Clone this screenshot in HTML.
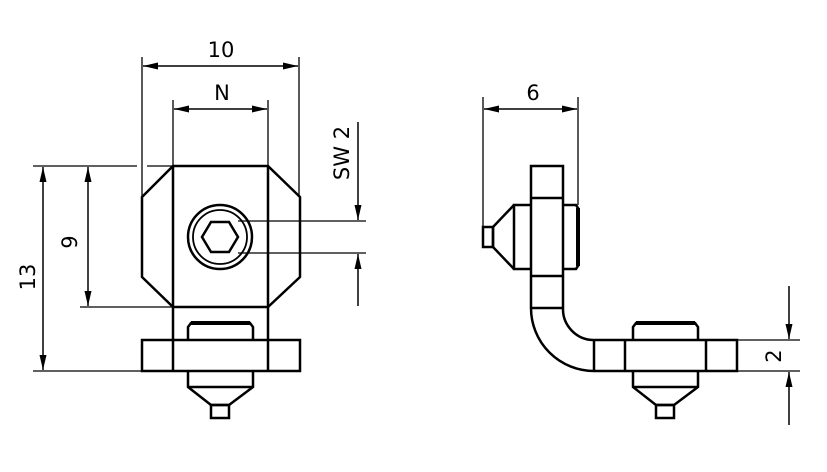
<!DOCTYPE html>
<html><head><meta charset="utf-8"><style>
html,body{margin:0;padding:0;background:#fff;}
svg{display:block;}
text{font-family:"DejaVu Sans","Liberation Sans",sans-serif;font-size:21px;fill:#000;}
</style></head><body>
<svg width="827" height="472" viewBox="0 0 827 472" xmlns="http://www.w3.org/2000/svg">
<defs>
<marker id="a" viewBox="0 0 15 10" refX="15" refY="5" markerWidth="15" markerHeight="10" markerUnits="userSpaceOnUse" orient="auto-start-reverse">
<path d="M0,1.5 L15,5 L0,8.5 z" fill="#000"/></marker>
</defs>
<g fill="none" stroke="#000" stroke-width="1.3">
<line x1="142" y1="57" x2="142" y2="197"/>
<line x1="299" y1="57" x2="299" y2="197"/>
<line x1="143" y1="66" x2="298" y2="66" marker-start="url(#a)" marker-end="url(#a)" stroke-width="1.5"/>
<line x1="173" y1="100" x2="173" y2="166"/>
<line x1="268" y1="100" x2="268" y2="166"/>
<line x1="174" y1="109" x2="267" y2="109" marker-start="url(#a)" marker-end="url(#a)" stroke-width="1.5"/>
<line x1="33" y1="166" x2="137" y2="166"/>
<line x1="147" y1="166" x2="173" y2="166"/>
<line x1="80" y1="307" x2="173" y2="307"/>
<line x1="33" y1="371" x2="142" y2="371"/>
<line x1="43" y1="167" x2="43" y2="370" marker-start="url(#a)" marker-end="url(#a)" stroke-width="1.5"/>
<line x1="88" y1="167" x2="88" y2="306" marker-start="url(#a)" marker-end="url(#a)" stroke-width="1.5"/>
<line x1="238" y1="221" x2="366" y2="221"/>
<line x1="238" y1="253" x2="366" y2="253"/>
<line x1="358" y1="122" x2="358" y2="220" marker-end="url(#a)" stroke-width="1.5"/>
<line x1="358" y1="306" x2="358" y2="254" marker-end="url(#a)" stroke-width="1.5"/>
</g>
<g fill="none" stroke="#000" stroke-width="2.5" stroke-linejoin="miter">
<polygon points="173,166 268,166 300,197 300,277 268,307 173,307 142,277 142,197"/>
<line x1="173" y1="166" x2="173" y2="371"/>
<line x1="268" y1="166" x2="268" y2="371"/>
<circle cx="220" cy="237" r="32"/>
<circle cx="220" cy="237" r="27" stroke-width="1.8"/>
<polygon points="202,237 211,222 229,222 238,237 229,252 211,252"/>
<path d="M188,340 V327 L191,323 H250 L253,327 V340"/>
<line x1="191" y1="323" x2="250" y2="323" stroke-width="4"/>
<rect x="142" y="340" width="158" height="31"/>
<path d="M188,371 V387 L211,405 H229 L253,387 V371"/>
<line x1="188" y1="387" x2="253" y2="387"/>
<rect x="211" y="405" width="18" height="13"/>
</g>
<g fill="none" stroke="#000" stroke-width="1.3">
<line x1="483" y1="97" x2="483" y2="227"/>
<line x1="578" y1="97" x2="578" y2="205"/>
<line x1="484" y1="109" x2="577" y2="109" marker-start="url(#a)" marker-end="url(#a)" stroke-width="1.5"/>
<line x1="737" y1="340" x2="800" y2="340"/>
<line x1="737" y1="371" x2="800" y2="371"/>
<line x1="789" y1="286" x2="789" y2="339" marker-end="url(#a)" stroke-width="1.5"/>
<line x1="789" y1="425" x2="789" y2="372" marker-end="url(#a)" stroke-width="1.5"/>
</g>
<g fill="none" stroke="#000" stroke-width="2.5">
<path d="M531,308 V166 H563 V308"/>
<line x1="531" y1="198" x2="563" y2="198"/>
<line x1="531" y1="276" x2="563" y2="276"/>
<line x1="531" y1="308" x2="563" y2="308"/>
<path d="M531,205 H514 V269 H531"/>
<path d="M514,205 L493,227 V247 L514,269"/>
<rect x="483" y="227" width="10" height="20"/>
<path d="M563,205 H576 L578,208 V266 L576,269 H563"/>
<line x1="578" y1="208" x2="578" y2="266" stroke-width="4"/>
<path d="M531,308 A63,63 0 0 0 594,371 H737 V340 H594 A31,31 0 0 1 563,308"/>
<line x1="594" y1="340" x2="594" y2="371"/>
<line x1="625" y1="340" x2="625" y2="371"/>
<line x1="706" y1="340" x2="706" y2="371"/>
<path d="M633,340 V327 L636,323 H695 L698,327 V340"/>
<line x1="636" y1="323" x2="695" y2="323" stroke-width="4"/>
<path d="M633,371 V387 L656,405 H674 L698,387 V371"/>
<line x1="633" y1="387" x2="698" y2="387"/>
<rect x="656" y="405" width="18" height="13"/>
</g>
<text x="221" y="57" text-anchor="middle">10</text>
<text x="222" y="100" text-anchor="middle">N</text>
<text x="533" y="100" text-anchor="middle">6</text>
<text transform="translate(35,277) rotate(-90)" text-anchor="middle">13</text>
<text transform="translate(77,242) rotate(-90)" text-anchor="middle">9</text>
<text transform="translate(349,153) rotate(-90)" text-anchor="middle">SW 2</text>
<text transform="translate(781,356) rotate(-90)" text-anchor="middle">2</text>
</svg>
</body></html>
